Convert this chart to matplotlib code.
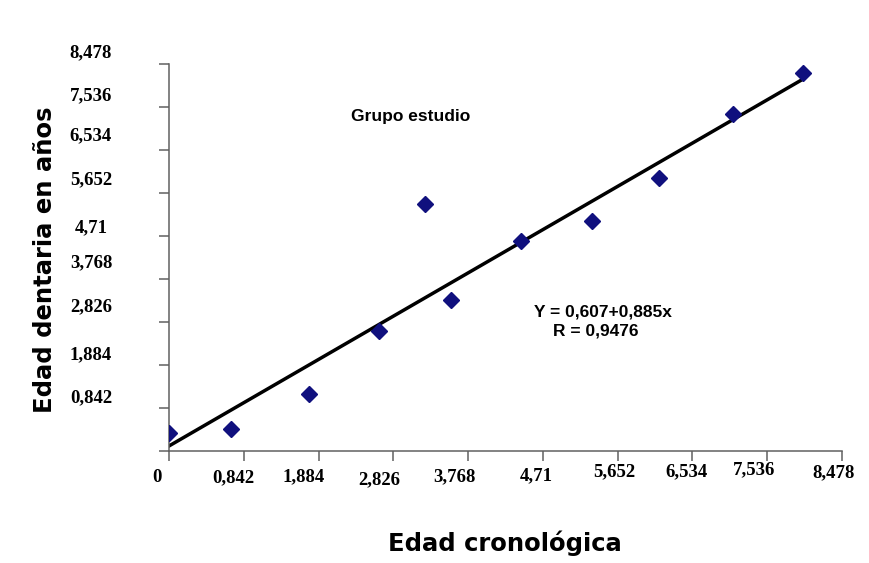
import matplotlib
matplotlib.use('Agg')
import matplotlib.pyplot as plt
from matplotlib.transforms import blended_transform_factory, offset_copy

# Data
tick_pos = [0, 0.942, 1.884, 2.826, 3.768, 4.71, 5.652, 6.594, 7.536, 8.478]
x_tick_labels = ['0', '0,842', '1,884', '2,826', '3,768', '4,71', '5,652', '6,534', '7,536', '8,478']
y_tick_labels = ['', '0,842', '1,884', '2,826', '3,768', '4,71', '5,652', '6,534', '7,536', '8,478']

edad_cron = [0.0, 0.78, 1.76, 2.65, 3.22, 3.55, 4.44, 5.33, 6.17, 7.10, 7.99]
edad_dent = [0.40, 0.49, 1.25, 2.63, 5.42, 3.31, 4.59, 5.04, 5.98, 7.39, 8.29]

trend_x = [0.0, 7.97]
trend_y = [0.11, 8.13]

# label nudges in pixels (the original labels are hand-placed text boxes)
x_lab_dx = [-12, -10, -15, -14, -14, -7, -3, -6, -13, -8]
x_lab_dy = [-27, -27, -26, -29, -26, -25, -21, -21, -19, -22]
y_lab_dy = [0, 10, 10, 15, 16, 8, 13, 14, 11, 11]

tick_font = dict(family='Liberation Serif', weight='bold', size=13.5)
note_font = dict(family='Liberation Sans', weight='bold', size=12.5)
title_font = dict(family='DejaVu Sans', weight='bold', size=17.5)

fig = plt.figure(figsize=(8.7, 5.63), dpi=100)
ax = fig.add_axes([169 / 870, 1 - 451 / 563, 673 / 870, 387 / 563])

ax.plot(trend_x, trend_y, color='black', linewidth=2.5, zorder=2)
ax.plot(edad_cron, edad_dent, linestyle='none', marker='D', markersize=8,
        color='#10107e', zorder=3)

ax.set_xlim(0, 8.478)
ax.set_ylim(0, 8.478)

for side in ['top', 'right']:
    ax.spines[side].set_visible(False)
for side in ['left', 'bottom']:
    ax.spines[side].set_color('#606060')
    ax.spines[side].set_linewidth(1.1)

ax.set_xticks(tick_pos)
ax.set_yticks(tick_pos)
ax.tick_params(direction='out', length=7, width=1.1, color='#606060',
               labelbottom=False, labelleft=False)

# tick labels, drawn as text so they can sit where the original puts them
xtrans = blended_transform_factory(ax.transData, ax.transAxes)
for pos, lab, dx, dy in zip(tick_pos, x_tick_labels, x_lab_dx, x_lab_dy):
    ax.text(pos, 0, lab, transform=offset_copy(xtrans, fig=fig, x=dx, y=dy, units='dots'),
            ha='center', va='center', clip_on=False, **tick_font)

ytrans = blended_transform_factory(ax.transAxes, ax.transData)
for pos, lab, dy in zip(tick_pos, y_tick_labels, y_lab_dy):
    if lab:
        ax.text(0, pos, lab, transform=offset_copy(ytrans, fig=fig, x=-78, y=dy, units='dots'),
                ha='center', va='center', clip_on=False, **tick_font)

# annotations
ax.text(3.04, 7.32, 'Grupo estudio', ha='center', va='center', **note_font)
ax.text(5.47, 3.045, 'Y = 0,607+0,885x', ha='center', va='center', **note_font)
ax.text(5.38, 2.63, 'R = 0,9476', ha='center', va='center', **note_font)

ax.set_xlabel('Edad cronológica', **title_font)
ax.set_ylabel('Edad dentaria en años', **title_font)
ax.xaxis.set_label_coords(0.499, -0.238)
ax.yaxis.set_label_coords(-0.184, 0.4935)
ax.xaxis.label.set_va('center')
ax.yaxis.label.set_va('center')

fig.savefig('out.png', dpi=100, facecolor='white')
